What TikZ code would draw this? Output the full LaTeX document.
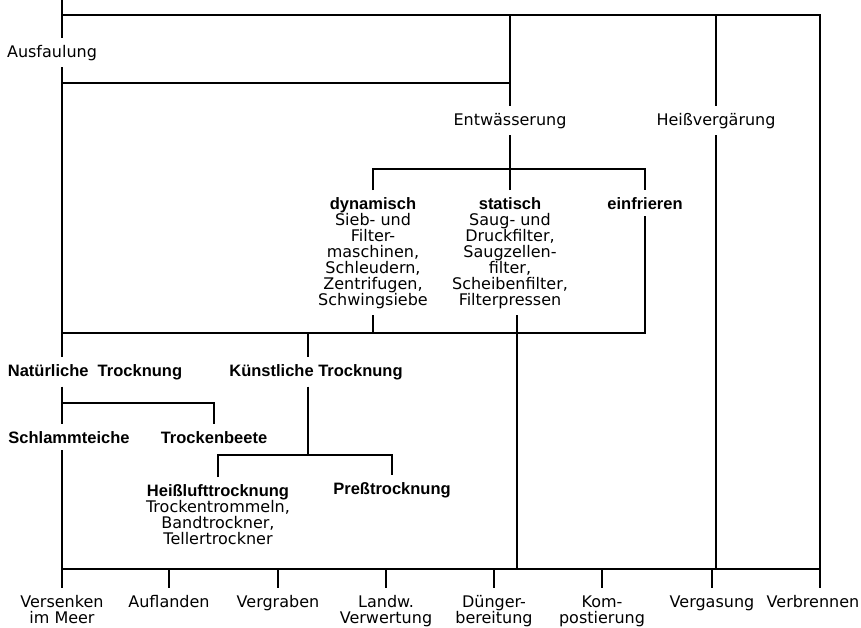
\documentclass[tikz,border=0pt]{standalone}
\usepackage{fontspec}
\setmainfont{DejaVu Sans}
\newfontfamily\kopffont{Liberation Sans}
\newcommand\kopf[1]{{\fontsize{16.5}{16}\selectfont\kopffont\bfseries #1}}

\begin{document}
\begin{tikzpicture}[x=1pt, y=-1pt, line width=1.1pt,
	lbl/.style={inner sep=0pt, outer sep=7pt, anchor=base, align=center, font=\fontsize{16}{16}\selectfont}]
	\useasboundingbox (0,0) rectangle (861,627);

	\node [lbl] (faul) at (52,57) {Ausfaulung};
	\node [lbl] (entw) at (510,125) {Entwässerung};
	\node [lbl] (heiss) at (716,125) {Heißvergärung};
	\node [lbl] (dyn) at (373,305) {\kopf{dynamisch} \\ Sieb- und \\ Filter- \\ maschinen, \\ Schleudern, \\ Zentrifugen, \\ Schwingsiebe};
	\node [lbl] (stat) at (510,305) {\kopf{statisch} \\ Saug- und \\ Druckfilter, \\ Saugzellen- \\ filter, \\ Scheibenfilter, \\ Filterpressen};
	\node [lbl] (frier) at (645,209) {\kopf{einfrieren}};
	\node [lbl] (nat) at (95,376) {\kopf{Natürliche\ \ Trocknung}};
	\node [lbl] (kuenst) at (316,376) {\kopf{Künstliche Trocknung}};
	\node [lbl] (teich) at (69,443) {\kopf{Schlammteiche}};
	\node [lbl] (beet) at (214,443) {\kopf{Trockenbeete}};
	\node [lbl] (luft) at (218,544) {\kopf{Heißlufttrocknung} \\ Trockentrommeln, \\ Bandtrockner, \\ Tellertrockner};
	\node [lbl] (press) at (392,494) {\kopf{Preßtrocknung}};

	\node [lbl] (meer) at (62,623) {Versenken \\ im Meer};
	\node [lbl] (aufl) at (169,607) {Auflanden};
	\node [lbl] (vergr) at (278,607) {Vergraben};
	\node [lbl] (landw) at (386,623) {Landw. \\ Verwertung};
	\node [lbl] (dueng) at (494,623) {Dünger- \\ bereitung};
	\node [lbl] (komp) at (602,623) {Kom- \\ postierung};
	\node [lbl] (vgas) at (712,607) {Vergasung};
	\node [lbl] (vbren) at (813,607) {Verbrennen};

	\coordinate (in) at (62,0);
	\coordinate (t1) at (62,15);
	\coordinate (t4) at (820,15);
	\coordinate (a2) at (62,83);
	\coordinate (ebus) at (510,169);
	\coordinate (tbus) at (62,333);
	\coordinate (dz) at (517,333);
	\coordinate (kz) at (308,333);
	\coordinate (nbus) at (62,403);
	\coordinate (pbus) at (308,455);
	\coordinate (bus) at (62,569);

	\draw (in) -- (faul.north -| in);
	\draw (faul.south -| in) -- (nat.north -| in);
	\draw (nat.south -| in) -- (teich.north -| in);
	\draw (teich.south -| in) -- (meer.north);
	\draw (t1) -- (t4) -- (t4 |- vbren.north);
	\draw (t1 -| entw) -- (entw.north);
	\draw (t1 -| heiss) -- (heiss.north);
	\draw (a2) -- (a2 -| entw);
	\draw (entw.south) -- (ebus);
	\draw (dyn.north) -- (dyn.north |- ebus) -- (frier.north |- ebus) -- (frier.north);
	\draw (stat.north) -- (stat.north |- ebus);
	\draw (dyn.south) -- (dyn.south |- tbus);
	\draw (stat.south -| dz) -- (dz |- bus);
	\draw (frier.south) -- (frier.south |- tbus) -- (tbus);
	\draw (kz) -- (kz |- kuenst.north);
	\draw (kz |- kuenst.south) -- (pbus);
	\draw (nbus) -- (nbus -| beet) -- (beet.north);
	\draw (luft.north) -- (luft.north |- pbus) -- (press.north |- pbus) -- (press.north);
	\draw (heiss.south) -- (heiss.south |- bus);
	\draw (bus) -- (bus -| t4);
	\foreach \z in {aufl, vergr, landw, dueng, komp, vgas}
		\draw (bus -| \z) -- (\z.north);
\end{tikzpicture}
\end{document}
